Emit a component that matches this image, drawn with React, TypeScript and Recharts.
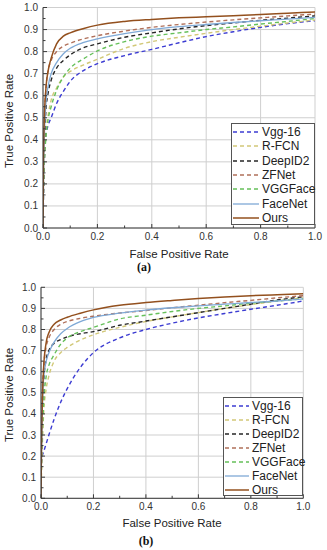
import React from 'react';
import { LineChart, Line, XAxis, YAxis, CartesianGrid, Legend } from 'recharts';

// ---------- data ----------
const FPR = [0, 0.002, 0.005, 0.01, 0.02, 0.03, 0.05, 0.075, 0.1, 0.15, 0.2, 0.3, 0.4, 0.5, 0.6, 0.7, 0.8, 0.9, 1.0];

const SERIES_NAMES = ['Vgg-16', 'R-FCN', 'DeepID2', 'ZFNet', 'VGGFace', 'FaceNet', 'Ours'];

const X_TICKS = [0, 0.1, 0.2, 0.3, 0.4, 0.5, 0.6, 0.7, 0.8, 0.9, 1.0];
const X_LABELS = [0, 0.2, 0.4, 0.6, 0.8, 1.0];
const Y_TICKS = [0, 0.05, 0.1, 0.15, 0.2, 0.25, 0.3, 0.35, 0.4, 0.45, 0.5, 0.55, 0.6, 0.65, 0.7, 0.75, 0.8, 0.85, 0.9, 0.95, 1.0];
const Y_LABELS = [0, 0.1, 0.2, 0.3, 0.4, 0.5, 0.6, 0.7, 0.8, 0.9, 1.0];

// chart (a)
const A_VGG16 = [0, 0.15, 0.3, 0.41, 0.47, 0.5, 0.565, 0.62, 0.665, 0.715, 0.745, 0.782, 0.81, 0.84, 0.868, 0.89, 0.91, 0.927, 0.94];
const A_RFCN = [0, 0.18, 0.3, 0.42, 0.52, 0.58, 0.635, 0.685, 0.71, 0.74, 0.765, 0.815, 0.845, 0.865, 0.883, 0.9, 0.915, 0.93, 0.943];
const A_DEEPID2 = [0, 0.22, 0.36, 0.52, 0.62, 0.67, 0.725, 0.76, 0.785, 0.818, 0.835, 0.865, 0.885, 0.903, 0.918, 0.93, 0.942, 0.952, 0.962];
const A_ZFNET = [0, 0.3, 0.48, 0.62, 0.72, 0.76, 0.8, 0.825, 0.838, 0.858, 0.872, 0.893, 0.91, 0.923, 0.934, 0.944, 0.953, 0.962, 0.97];
const A_VGGFACE = [0, 0.18, 0.3, 0.4, 0.5, 0.55, 0.625, 0.685, 0.725, 0.768, 0.803, 0.845, 0.87, 0.885, 0.9, 0.912, 0.925, 0.937, 0.95];
const A_FACENET = [0, 0.25, 0.42, 0.55, 0.65, 0.7, 0.75, 0.79, 0.815, 0.842, 0.858, 0.882, 0.9, 0.913, 0.923, 0.932, 0.94, 0.947, 0.955];
const A_OURS = [0, 0.32, 0.5, 0.62, 0.72, 0.77, 0.835, 0.87, 0.885, 0.905, 0.92, 0.937, 0.946, 0.953, 0.958, 0.963, 0.968, 0.974, 0.98];

// chart (b)
const B_VGG16 = [0, 0.17, 0.2, 0.22, 0.26, 0.3, 0.375, 0.455, 0.52, 0.62, 0.69, 0.76, 0.8, 0.83, 0.855, 0.876, 0.896, 0.915, 0.935];
const B_RFCN = [0, 0.12, 0.25, 0.4, 0.52, 0.58, 0.65, 0.69, 0.715, 0.75, 0.775, 0.81, 0.838, 0.86, 0.88, 0.9, 0.918, 0.935, 0.95];
const B_DEEPID2 = [0, 0.25, 0.4, 0.55, 0.66, 0.7, 0.735, 0.752, 0.765, 0.78, 0.79, 0.82, 0.84, 0.86, 0.88, 0.9, 0.92, 0.94, 0.955];
const B_ZFNET = [0, 0.3, 0.5, 0.62, 0.72, 0.76, 0.8, 0.825, 0.838, 0.853, 0.863, 0.878, 0.89, 0.903, 0.915, 0.927, 0.938, 0.95, 0.96];
const B_VGGFACE = [0, 0.18, 0.3, 0.45, 0.58, 0.63, 0.68, 0.73, 0.76, 0.79, 0.81, 0.85, 0.868, 0.885, 0.9, 0.912, 0.925, 0.935, 0.945];
const B_FACENET = [0, 0.22, 0.42, 0.57, 0.65, 0.69, 0.74, 0.78, 0.805, 0.837, 0.857, 0.878, 0.892, 0.903, 0.912, 0.92, 0.928, 0.935, 0.945];
const B_OURS = [0, 0.25, 0.45, 0.62, 0.74, 0.785, 0.825, 0.845, 0.858, 0.877, 0.893, 0.915, 0.928, 0.938, 0.947, 0.954, 0.96, 0.965, 0.97];

// ---------- styles ----------
const STYLE: Record<string, { color: string; dash?: string; width: number }> = {
  'Vgg-16': { color: '#3c3cd2', dash: '4 3', width: 1.4 },
  'R-FCN': { color: '#d2c878', dash: '4 3', width: 1.4 },
  'DeepID2': { color: '#262626', dash: '4 3', width: 1.4 },
  'ZFNet': { color: '#b0705a', dash: '4 3', width: 1.4 },
  'VGGFace': { color: '#66c05a', dash: '4 3', width: 1.4 },
  'FaceNet': { color: '#7fa9d6', width: 1.3 },
  'Ours': { color: '#93501e', width: 1.5 },
};

const FONT = '"Liberation Sans", Arial, sans-serif';
const AXIS_COLOR = '#3a3a3a';
const TEXT_COLOR = '#333';

const isLabeled = (v: number, labels: number[]) => labels.some((l) => Math.abs(l - v) < 1e-9);

const BottomTick = (props: any) => {
  const { x, y, payload } = props;
  const major = isLabeled(payload.value, X_LABELS);
  return (
    <g>
      <line x1={x} x2={x} y1={y} y2={y - (major ? 4 : 2.5)} stroke={AXIS_COLOR} strokeWidth={1} />
      {major && (
        <text x={x} y={y + 5} dy="0.71em" textAnchor="middle" fontSize={10} fill={TEXT_COLOR} fontFamily={FONT}>
          {payload.value.toFixed(1)}
        </text>
      )}
    </g>
  );
};

const TopTick = (props: any) => {
  const { x, y, payload } = props;
  const major = isLabeled(payload.value, X_LABELS);
  return <line x1={x} x2={x} y1={y} y2={y + (major ? 4 : 2.5)} stroke={AXIS_COLOR} strokeWidth={1} />;
};

const LeftTick = (props: any) => {
  const { x, y, payload } = props;
  const major = isLabeled(payload.value, Y_LABELS);
  return (
    <g>
      <line x1={x} x2={x + (major ? 4 : 2.5)} y1={y} y2={y} stroke={AXIS_COLOR} strokeWidth={1} />
      {major && (
        <text x={x - 5} y={y} dy="0.35em" textAnchor="end" fontSize={10} fill={TEXT_COLOR} fontFamily={FONT}>
          {payload.value.toFixed(1)}
        </text>
      )}
    </g>
  );
};

const RightTick = (props: any) => {
  const { x, y, payload } = props;
  const major = isLabeled(payload.value, Y_LABELS);
  return <line x1={x} x2={x - (major ? 4 : 2.5)} y1={y} y2={y} stroke={AXIS_COLOR} strokeWidth={1} />;
};

type Layout = {
  top: number;
  right: number;
  yAxisWidth: number;
  xAxisHeight: number;
  legend: { left: number; top: number; width: number; height: number; sample: number; gap: number };
};

const LegendBox = ({ layout }: { layout: Layout['legend'] }) => (
  <div
    style={{
      width: layout.width,
      height: layout.height,
      boxSizing: 'border-box',
      border: '1px solid #555',
      background: '#fff',
      padding: '1px 0 0 1px',
      fontFamily: FONT,
      fontSize: 12,
      color: '#222',
    }}
  >
    {SERIES_NAMES.map((name) => {
      const s = STYLE[name];
      return (
        <div key={name} style={{ display: 'flex', alignItems: 'center', height: layout.gap, whiteSpace: 'nowrap' }}>
          <svg width={layout.sample} height={6} style={{ flex: 'none' }}>
            <line x1={0} x2={layout.sample} y1={3} y2={3} stroke={s.color} strokeWidth={s.width} strokeDasharray={s.dash} />
          </svg>
          <span style={{ marginLeft: 3, lineHeight: '12px' }}>{name}</span>
        </div>
      );
    })}
  </div>
);

function RocChart({ series, layout }: { series: number[][]; layout: Layout }) {
  return (
    <LineChart width={327} height={275} margin={{ top: layout.top, right: layout.right, bottom: 0, left: 0 }}>
      <CartesianGrid
        xAxisId="main"
        yAxisId="main"
        stroke="#cfcfcf"
        strokeWidth={1}
        horizontalValues={Y_LABELS}
        verticalValues={X_LABELS}
      />
      <XAxis
        xAxisId="main"
        type="number"
        dataKey="fpr"
        domain={[0, 1]}
        ticks={X_TICKS}
        interval={0}
        height={layout.xAxisHeight}
        tickSize={0}
        tickMargin={0}
        tickLine={false}
        axisLine={{ stroke: AXIS_COLOR }}
        tick={(p: any) => <BottomTick {...p} />}
        allowDataOverflow
      />
      <XAxis
        xAxisId="top"
        orientation="top"
        type="number"
        dataKey="fpr"
        domain={[0, 1]}
        ticks={X_TICKS}
        interval={0}
        height={0}
        tickSize={0}
        tickMargin={0}
        tickLine={false}
        axisLine={{ stroke: AXIS_COLOR }}
        tick={(p: any) => <TopTick {...p} />}
        allowDataOverflow
      />
      <YAxis
        yAxisId="main"
        type="number"
        domain={[0, 1]}
        ticks={Y_TICKS}
        interval={0}
        width={layout.yAxisWidth}
        tickSize={0}
        tickMargin={0}
        tickLine={false}
        axisLine={{ stroke: AXIS_COLOR }}
        tick={(p: any) => <LeftTick {...p} />}
        allowDataOverflow
      />
      <YAxis
        yAxisId="right"
        orientation="right"
        type="number"
        domain={[0, 1]}
        ticks={Y_TICKS}
        interval={0}
        width={0}
        tickSize={0}
        tickMargin={0}
        tickLine={false}
        axisLine={{ stroke: AXIS_COLOR }}
        tick={(p: any) => <RightTick {...p} />}
        allowDataOverflow
      />
      {SERIES_NAMES.map((name, i) => {
        const s = STYLE[name];
        const data = FPR.map((f, k) => ({ fpr: f, tpr: series[i][k] }));
        return (
          <Line
            key={name}
            xAxisId="main"
            yAxisId="main"
            data={data}
            dataKey="tpr"
            name={name}
            type="monotone"
            stroke={s.color}
            strokeWidth={s.width}
            strokeDasharray={s.dash}
            dot={false}
            activeDot={false}
            isAnimationActive={false}
          />
        );
      })}
      <Line xAxisId="top" yAxisId="right" data={[{ fpr: 0, tpr: 0 }, { fpr: 1, tpr: 1 }]} dataKey="tpr" stroke="none" dot={false} activeDot={false} legendType="none" isAnimationActive={false} />
      <Legend
        layout="vertical"
        align="center"
        verticalAlign="middle"
        wrapperStyle={{ left: layout.legend.left, top: layout.legend.top, width: layout.legend.width, height: layout.legend.height }}
        content={() => <LegendBox layout={layout.legend} />}
      />
    </LineChart>
  );
}

const LAYOUT_A: Layout = {
  top: 7.5,
  right: 12,
  yAxisWidth: 43,
  xAxisHeight: 47,
  legend: { left: 231, top: 123, width: 84, height: 102, sample: 26, gap: 14.3 },
};

const LAYOUT_B: Layout = {
  top: 12.3,
  right: 23.7,
  yAxisWidth: 41,
  xAxisHeight: 51.7,
  legend: { left: 223, top: 397, width: 80, height: 99, sample: 24, gap: 14 },
};

const titleStyle: React.CSSProperties = {
  position: 'absolute',
  fontFamily: FONT,
  fontSize: 11.5,
  color: '#222',
  textAlign: 'center',
  whiteSpace: 'nowrap',
  lineHeight: '14px',
};

const captionStyle: React.CSSProperties = {
  position: 'absolute',
  fontFamily: '"Liberation Serif", "Times New Roman", serif',
  fontWeight: 'bold',
  fontSize: 12,
  color: '#111',
  textAlign: 'center',
  lineHeight: '14px',
};

export default function App() {
  return (
    <div style={{ position: 'absolute', left: 0, top: 0, width: 327, height: 550, background: '#fff', overflow: 'hidden' }}>
      <div style={{ position: 'absolute', left: 0, top: 0 }}>
        <RocChart
          series={[A_VGG16, A_RFCN, A_DEEPID2, A_ZFNET, A_VGGFACE, A_FACENET, A_OURS]}
          layout={LAYOUT_A}
        />
      </div>
      <div style={{ ...titleStyle, left: 79, top: 247, width: 200 }}>False Positive Rate</div>
      <div style={{ ...titleStyle, left: -91, top: 114, width: 200, transform: 'rotate(-90deg)' }}>True Positive Rate</div>
      <div style={{ ...captionStyle, left: 124, top: 260, width: 40 }}>(a)</div>

      <div style={{ position: 'absolute', left: 0, top: 275 }}>
        <RocChart
          series={[B_VGG16, B_RFCN, B_DEEPID2, B_ZFNET, B_VGGFACE, B_FACENET, B_OURS]}
          layout={{ ...LAYOUT_B, legend: { ...LAYOUT_B.legend, top: LAYOUT_B.legend.top - 275 } }}
        />
      </div>
      <div style={{ ...titleStyle, left: 72, top: 516, width: 200 }}>False Positive Rate</div>
      <div style={{ ...titleStyle, left: -91, top: 388, width: 200, transform: 'rotate(-90deg)' }}>True Positive Rate</div>
      <div style={{ ...captionStyle, left: 126, top: 534, width: 40 }}>(b)</div>
    </div>
  );
}
